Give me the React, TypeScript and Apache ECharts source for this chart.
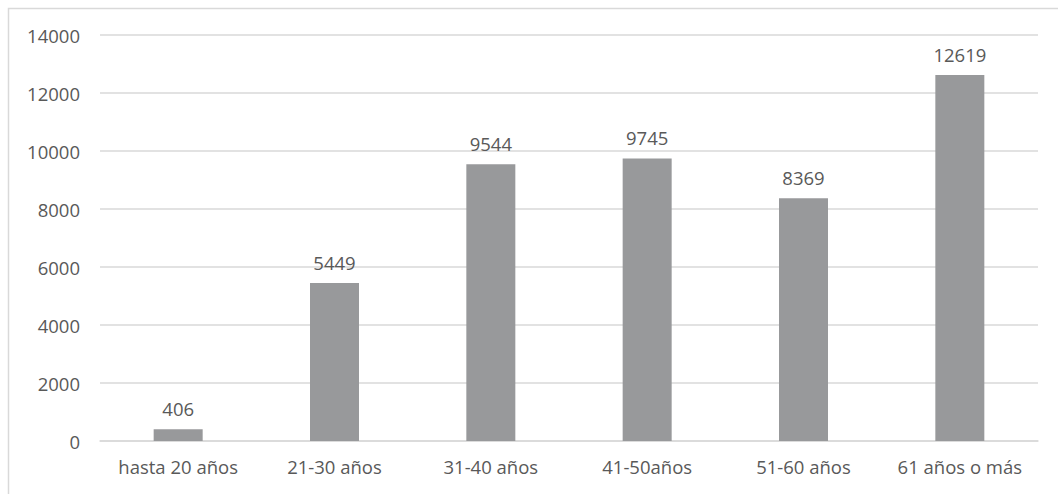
import React, { useEffect, useRef } from "react";
import * as echarts from "echarts";

const categories = ["hasta 20 años", "21-30 años", "31-40 años", "41-50años", "51-60 años", "61 años o más"];
const values = [406, 5449, 9544, 9745, 8369, 12619];
const yTicks = { min: 0, max: 14000, interval: 2000 };

export default function App() {
  const ref = useRef<HTMLDivElement>(null);
  useEffect(() => {
    if (!ref.current) return;
    const chart = echarts.init(ref.current, undefined, { renderer: "svg" });
    const font = "'Open Sans', 'Liberation Sans', sans-serif";
    chart.setOption({
      animation: false,
      backgroundColor: "#ffffff",
      graphic: [
        {
          type: "rect",
          shape: { x: 8.5, y: 8.5, width: 1200, height: 700 },
          style: { fill: "none", stroke: "#d9d9d9", lineWidth: 1.5 },
          silent: true,
        },
      ],
      grid: { left: 100, right: 20, top: 35, bottom: 53 },
      xAxis: {
        type: "category",
        data: categories,
        axisLine: { show: true, lineStyle: { color: "#d9d9d9", width: 1.5 } },
        axisTick: { show: false },
        axisLabel: { color: "#595959", fontFamily: font, fontSize: 18.5, margin: 16, interval: 0 },
      },
      yAxis: {
        type: "value",
        min: yTicks.min,
        max: yTicks.max,
        interval: yTicks.interval,
        axisLine: { show: false },
        axisTick: { show: false },
        splitLine: { lineStyle: { color: "#d9d9d9", width: 1.5 } },
        axisLabel: {
          color: "#595959",
          fontFamily: font,
          fontSize: 18.5,
          margin: 20,
          formatter: (v: number) => String(v),
        },
      },
      series: [
        {
          type: "bar",
          data: values,
          barWidth: 49,
          itemStyle: { color: "#98999b" },
          label: {
            show: true,
            position: "top",
            distance: 11,
            color: "#595959",
            fontFamily: font,
            fontSize: 18.5,
          },
        },
      ],
    });
    return () => chart.dispose();
  }, []);
  return (
    <div
      ref={ref}
      style={{ position: "fixed", left: 0, top: 0, width: 1058, height: 494 }}
    />
  );
}
